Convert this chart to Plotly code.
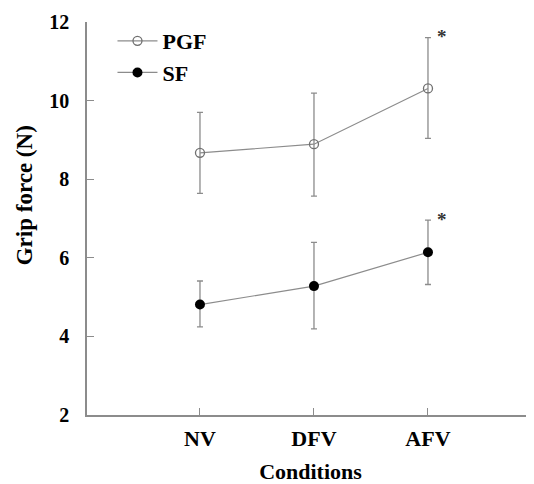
import plotly.graph_objects as go

conditions = ["NV", "DFV", "AFV"]
cond_x = [1, 2, 3]
pgf_mean = [8.67, 8.89, 10.31]
pgf_err_plus = [1.03, 1.30, 1.29]
pgf_err_minus = [1.03, 1.32, 1.27]
sf_mean = [4.81, 5.28, 6.14]
sf_err_plus = [0.60, 1.11, 0.82]
sf_err_minus = [0.57, 1.09, 0.82]
y_ticks = [2, 4, 6, 8, 10, 12]

FONT = "Liberation Serif"
GRAY = "#8c8c8c"

fig = go.Figure()
fig.add_trace(go.Scatter(
    x=cond_x, y=pgf_mean, name="PGF", mode="lines+markers",
    line=dict(color=GRAY, width=1.2),
    marker=dict(symbol="circle-open", size=9, color="#707070", line=dict(width=1.3)),
    error_y=dict(type="data", symmetric=False, array=pgf_err_plus, arrayminus=pgf_err_minus,
                 color=GRAY, thickness=1.3, width=3),
))
fig.add_trace(go.Scatter(
    x=cond_x, y=sf_mean, name="SF", mode="lines+markers",
    line=dict(color=GRAY, width=1.2),
    marker=dict(symbol="circle", size=10, color="black"),
    error_y=dict(type="data", symmetric=False, array=sf_err_plus, arrayminus=sf_err_minus,
                 color=GRAY, thickness=1.3, width=3),
))

stars = [(3, pgf_mean[2] + pgf_err_plus[2]), (3, sf_mean[2] + sf_err_plus[2])]
for sx, sy in stars:
    fig.add_annotation(x=sx, y=sy, text="*", showarrow=False,
                       xshift=14, yshift=1,
                       font=dict(family=FONT, size=19, color="#333", weight="bold"))

# y-axis title as a paper annotation (sits slightly above the plot centre in the reference)
fig.add_annotation(x=-0.141, y=0.559, xref="paper", yref="paper", text="Grip force (N)",
                   textangle=-90, showarrow=False, xanchor="center", yanchor="middle",
                   font=dict(family=FONT, size=23, color="black", weight="bold"))

fig.update_layout(
    width=526, height=476,
    margin=dict(l=79, r=0, t=14, b=69),
    plot_bgcolor="white", paper_bgcolor="white",
    font=dict(family=FONT, color="black"),
    showlegend=True,
    legend=dict(x=0.057, y=1.005, xanchor="left", yanchor="top",
                font=dict(family=FONT, size=22, color="black", weight="bold"),
                bgcolor="rgba(0,0,0,0)", itemwidth=40, tracegroupgap=0),
    xaxis=dict(range=[0.009, 3.93], tickvals=cond_x, ticktext=conditions,
               showgrid=False, zeroline=False, showline=True, linecolor=GRAY, linewidth=1.5,
               ticks="inside", ticklen=7, tickcolor=GRAY, tickwidth=1.2,
               ticklabelstandoff=3,
               tickfont=dict(family=FONT, size=22, color="black", weight="bold"),
               title=dict(text="Conditions",
                          font=dict(family=FONT, size=22, weight="bold"), standoff=18)),
    yaxis=dict(range=[2, 12], tickvals=y_ticks,
               showgrid=False, zeroline=False, showline=True, linecolor=GRAY, linewidth=1.5,
               ticks="inside", ticklen=7, tickcolor=GRAY, tickwidth=1.2,
               ticklabelstandoff=12,
               tickfont=dict(family=FONT, size=20, color="black", weight="bold")),
)

fig.write_html("out.html")
